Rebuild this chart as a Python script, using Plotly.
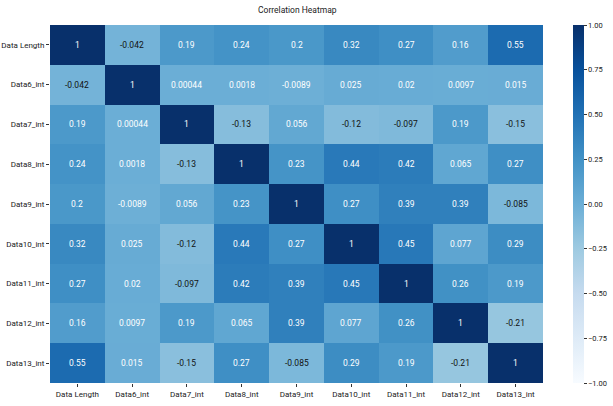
import plotly.graph_objects as go

labels = ["Data Length", "Data6_int", "Data7_int", "Data8_int", "Data9_int",
          "Data10_int", "Data11_int", "Data12_int", "Data13_int"]

row_data_length = [1, -0.042, 0.19, 0.24, 0.2, 0.32, 0.27, 0.16, 0.55]
row_data6 = [-0.042, 1, 0.00044, 0.0018, -0.0089, 0.025, 0.02, 0.0097, 0.015]
row_data7 = [0.19, 0.00044, 1, -0.13, 0.056, -0.12, -0.097, 0.19, -0.15]
row_data8 = [0.24, 0.0018, -0.13, 1, 0.23, 0.44, 0.42, 0.065, 0.27]
row_data9 = [0.2, -0.0089, 0.056, 0.23, 1, 0.27, 0.39, 0.39, -0.085]
row_data10 = [0.32, 0.025, -0.12, 0.44, 0.27, 1, 0.45, 0.077, 0.29]
row_data11 = [0.27, 0.02, -0.097, 0.42, 0.39, 0.45, 1, 0.26, 0.19]
row_data12 = [0.16, 0.0097, 0.19, 0.065, 0.39, 0.077, 0.26, 1, -0.21]
row_data13 = [0.55, 0.015, -0.15, 0.27, -0.085, 0.29, 0.19, -0.21, 1]

z = [row_data_length, row_data6, row_data7, row_data8, row_data9,
     row_data10, row_data11, row_data12, row_data13]

cbar_ticks = [-1.0, -0.75, -0.5, -0.25, 0.0, 0.25, 0.5, 0.75, 1.0]

FONT = "Roboto, sans-serif"

fig = go.Figure(go.Heatmap(
    z=z, x=labels, y=labels,
    colorscale="Blues", zmin=-1, zmax=1,
    colorbar=dict(
        x=1.0609, xanchor="left", xref="paper", xpad=0, ypad=0,
        y=0.5, yanchor="middle", len=1.0, lenmode="fraction",
        thickness=11, outlinewidth=0,
        tickvals=cbar_ticks, tickformat=".2f",
        ticks="outside", ticklen=3, tickcolor="#333",
        tickfont=dict(family=FONT, size=7.5, color="#222"),
    ),
    hoverinfo="skip",
))

annotations = []
for i, rlab in enumerate(labels):
    for j, clab in enumerate(labels):
        v = z[i][j]
        annotations.append(dict(
            x=clab, y=rlab, text=format(v, ".2g"), showarrow=False,
            font=dict(family=FONT, size=8.5,
                      color="white" if v > -0.03 else "#111"),
        ))

fig.update_layout(
    width=613, height=406,
    margin=dict(l=50, r=70, t=25, b=23, autoexpand=False),
    paper_bgcolor="white", plot_bgcolor="white",
    title=dict(text="Correlation Heatmap", x=0.485, xanchor="center",
               y=0.975, yanchor="middle",
               font=dict(family=FONT, size=8.5, color="#222")),
    annotations=annotations,
    font=dict(family=FONT, size=8, color="#222"),
)
fig.update_xaxes(showgrid=False, zeroline=False, ticks="outside", ticklen=3,
                 tickcolor="#333", tickangle=0, automargin=False,
                 tickfont=dict(family=FONT, size=8, color="#222"))
fig.update_yaxes(showgrid=False, zeroline=False, ticks="outside", ticklen=3,
                 tickcolor="#333", autorange="reversed", automargin=False,
                 tickfont=dict(family=FONT, size=8, color="#222"))

fig.write_html("out.html", config={"displayModeBar": False},
               post_script="document.body.style.margin='0';document.body.style.padding='0';")
